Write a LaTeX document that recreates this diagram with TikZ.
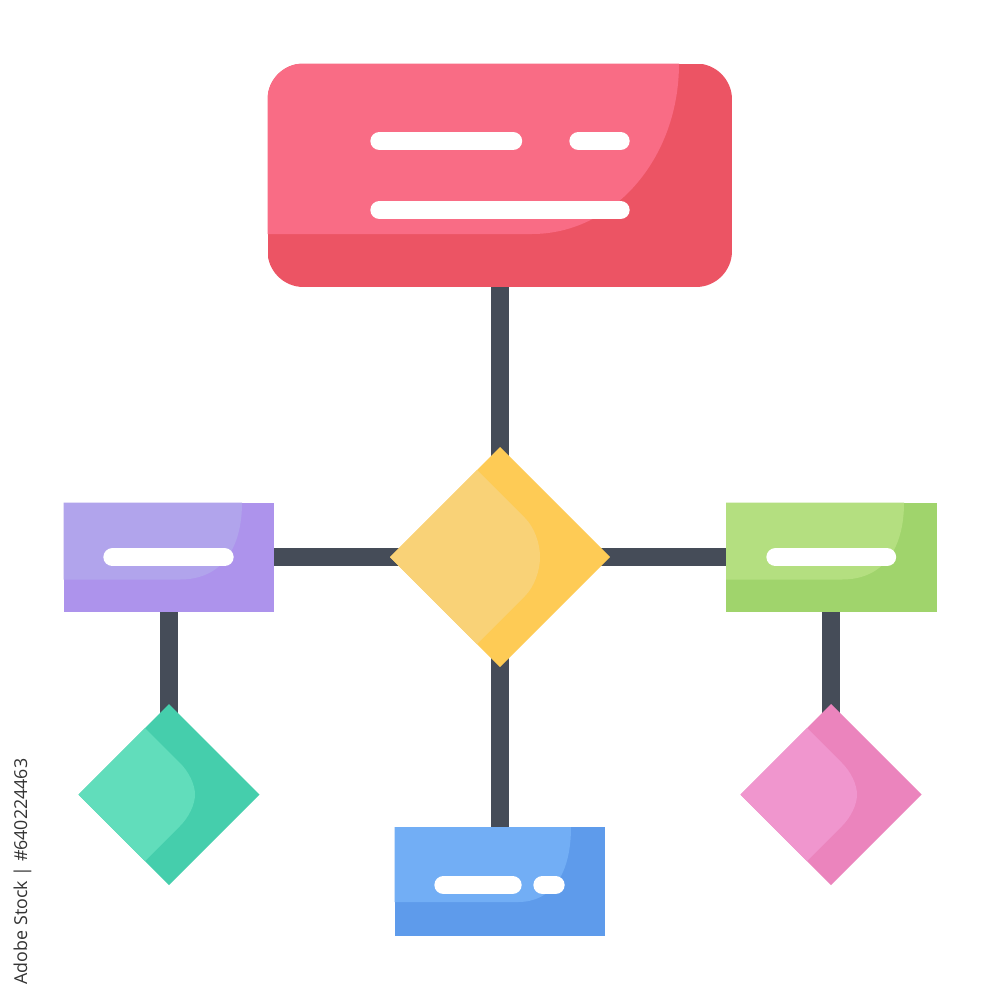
\documentclass[tikz,border=0pt]{standalone}
\usepackage{fontspec}
\setmainfont{Open Sans}
\definecolor{wire}{HTML}{454C58}
\definecolor{redL}{HTML}{F96C85}\definecolor{redD}{HTML}{EC5464}
\definecolor{purL}{HTML}{B1A4EC}\definecolor{purD}{HTML}{AD93EC}
\definecolor{grnL}{HTML}{B4DF80}\definecolor{grnD}{HTML}{A0D46C}
\definecolor{bluL}{HTML}{72AEF5}\definecolor{bluD}{HTML}{5E9BEB}
\definecolor{yelL}{HTML}{F9D277}\definecolor{yelD}{HTML}{FECB55}
\definecolor{teaL}{HTML}{61DDBB}\definecolor{teaD}{HTML}{45CEAC}
\definecolor{pnkL}{HTML}{F096CE}\definecolor{pnkD}{HTML}{EB84BD}
\tikzset{
  x=0.01cm,y=-0.01cm,
  conn/.style={draw=wire,line width=0.18cm},
  box/.style={rectangle,inner sep=0pt,outer sep=0pt,minimum width=2.105cm,minimum height=1.095cm},
  bar/.style={white,line width=0.183cm,line cap=round},
  anchorpt/.style={inner sep=0pt,outer sep=0pt,minimum size=0pt}
}
% x0 y0 x1 y1, shade x, shade y, curve end x, light, dark
\newcommand{\flatbox}[9]{%
  \fill[#9] (#1,#2) rectangle (#3,#4);
  \fill[#8] (#1,#2) -- (#5,#2)
    .. controls (#5,{#2+0.62*(#6-#2)}) and ({#7+0.65*(#5-#7)},#6) .. (#7,#6)
    -- (#1,#6) -- cycle;
}
% cx cy half, cut a, tip b, light, dark
\newcommand{\flatdiamond}[7]{%
  \fill[#7] (#1,#2-#3) -- (#1+#3,#2) -- (#1,#2+#3) -- (#1-#3,#2) -- cycle;
  \pgfmathsetmacro{\kx}{#5-15}
  \pgfmathsetmacro{\ky}{-(#3-#4)+\kx+#4}
  \pgfmathsetmacro{\cy}{\ky+15}
  \pgfmathsetmacro{\ax}{\kx+9}
  \pgfmathsetmacro{\ay}{\ky+9}
  \pgfmathsetmacro{\by}{\cy*0.6}
  \fill[#6] (#1-#3,#2) -- (#1-#4,#2-#3+#4)
    -- (#1+\kx,#2+\ky)
    .. controls (#1+\ax,#2+\ay) and (#1+#5,#2+\by) .. (#1+#5,#2)
    .. controls (#1+#5,#2-\by) and (#1+\ax,#2-\ay) .. (#1+\kx,#2-\ky)
    -- (#1-#4,#2+#3-#4) -- cycle;
}
\begin{document}
\begin{tikzpicture}
\useasboundingbox (0,0) rectangle (1000,1000);
\fill[white] (0,0) rectangle (1000,1000);

\node[box,minimum width=4.645cm,minimum height=2.235cm] (main) at (499.75,175.25) {};
\node[box] (purple) at (168.75,557.25) {};
\node[box] (green) at (831.25,557.25) {};
\node[box,minimum height=1.09cm] (blue) at (499.75,881.5) {};
\node[anchorpt] (yellow) at (499.75,557.25) {};
\node[anchorpt] (teal) at (168.75,794.5) {};
\node[anchorpt] (pink) at (831.25,794.5) {};

\draw[conn] (main.south) -- (yellow.center);
\draw[conn] (purple.east) -- (yellow.center);
\draw[conn] (green.west) -- (yellow.center);
\draw[conn] (blue.north) -- (yellow.center);
\draw[conn] (purple.south) -- (teal.center);
\draw[conn] (green.south) -- (pink.center);

\begin{scope}
  \clip[rounded corners=0.36cm] (267.5,63.5) rectangle (732,287);
  \fill[redD] (267.5,63.5) rectangle (732,287);
  \fill[redL] (267.5,63.5) -- (679,63.5)
    .. controls (679,160) and (612,234) .. (532,234) -- (267.5,234) -- cycle;
\end{scope}
\draw[bar] (379.5,141) -- (513,141);
\draw[bar] (578.5,141) -- (620.5,141);
\draw[bar] (379.5,210) -- (620.5,210);

\flatbox{63.5}{502.5}{274}{612}{242}{579.5}{180}{purL}{purD}
\draw[bar] (112.5,557.2) -- (224.5,557.2);
\flatbox{726}{502.5}{936.5}{612}{904}{579.5}{842}{grnL}{grnD}
\draw[bar] (775.5,557.2) -- (887,557.2);
\flatbox{394.5}{827}{605}{936}{571}{902}{518}{bluL}{bluD}
\draw[bar] (443.5,885) -- (512.5,885);
\draw[bar] (542.5,885) -- (555.5,885);

\flatdiamond{500}{557}{110}{23}{40}{yelL}{yelD}
\flatdiamond{169}{794.5}{90.5}{24}{26}{teaL}{teaD}
\flatdiamond{831}{794.5}{90.5}{24}{26}{pnkL}{pnkD}

\node[rotate=90,anchor=west,inner sep=0pt,font=\fontsize{5.07pt}{6pt}\selectfont,text=black!80] (stock) at (22.5,985) {Adobe Stock | \#640224463};
\end{tikzpicture}
\end{document}
